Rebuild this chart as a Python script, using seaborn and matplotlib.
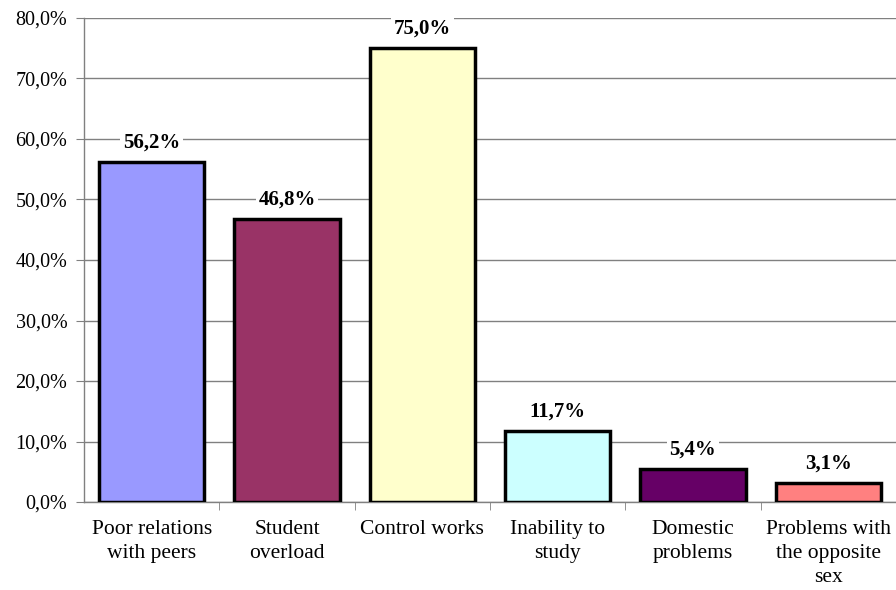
import matplotlib
matplotlib.use("Agg")
import matplotlib.pyplot as plt
import seaborn as sns
import pandas as pd
import numpy as np
from matplotlib.ticker import FuncFormatter, FixedLocator

categories = ["Poor relations\nwith peers", "Student\noverload", "Control works",
              "Inability to\nstudy", "Domestic\nproblems", "Problems with\nthe opposite\nsex"]
values = [56.2, 46.8, 75.0, 11.7, 5.4, 3.1]
colors = ["#9999FF", "#993366", "#FFFFCC", "#CCFFFF", "#660066", "#FF8080"]

df = pd.DataFrame({"cat": categories, "val": values})

sns.set_style("white")
plt.rcParams['font.family'] = ['Liberation Serif', 'DejaVu Serif']
plt.rcParams['text.color'] = 'black'
plt.rcParams['xtick.color'] = 'black'
plt.rcParams['ytick.color'] = 'black'

fig = plt.figure(figsize=(8.96, 5.90), dpi=100)
ax = fig.add_axes([84/896, 88/590, 1 - 84/896, (502-18)/590])

sns.barplot(data=df, x="cat", y="val", hue="cat", palette=colors, legend=False,
            saturation=1, width=0.78, edgecolor="black", linewidth=2.5, ax=ax, zorder=3)

ax.set_xlim(-0.5, 5.5)
ax.set_ylim(0, 80)
ax.yaxis.set_major_locator(FixedLocator(np.arange(0, 81, 10)))
ax.yaxis.set_major_formatter(FuncFormatter(lambda v, p: f"{v:.1f}%".replace(".", ",")))
ax.grid(axis="y", color="#808080", linewidth=1.0, zorder=0)
ax.set_axisbelow(True)
ax.set_xlabel("")
ax.set_ylabel("")

for s in ["top", "right"]:
    ax.spines[s].set_visible(False)
for s in ["left", "bottom"]:
    ax.spines[s].set_color("#808080")
    ax.spines[s].set_linewidth(1.0)

ax.tick_params(axis="y", direction="out", length=6, color="#808080", labelcolor="black",
               labelsize=14.5, pad=6, left=True)
ax.tick_params(axis="x", which="major", length=0, labelsize=15.5, labelcolor="black", pad=13)
ax.set_xticks(range(len(categories)))
ax.set_xticklabels(categories, linespacing=1.35)
ax.set_xticks(np.arange(0.5, len(categories) - 0.5, 1), minor=True)
ax.tick_params(axis="x", which="minor", direction="out", length=6, color="#808080", bottom=True)

for i, v in enumerate(values):
    ax.text(i, v + 1.6, f"{v:.1f}%".replace(".", ","), ha="center", va="bottom",
            fontsize=15, fontweight="bold", color="black",
            bbox=dict(facecolor="white", edgecolor="none", pad=2), zorder=4)

fig.savefig("out.png", dpi=100)
